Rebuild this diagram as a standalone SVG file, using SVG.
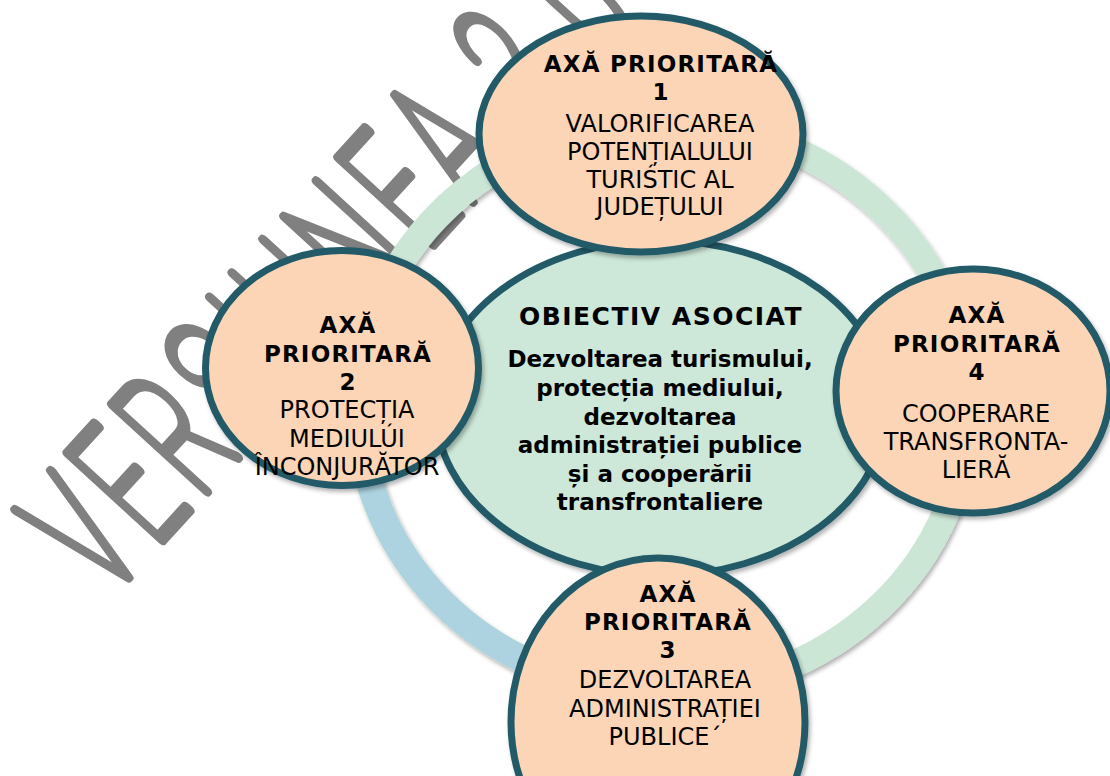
<svg xmlns="http://www.w3.org/2000/svg" width="1110" height="776" viewBox="0 0 1110 776">
  <defs>
    <filter id="sh" x="-10%" y="-10%" width="125%" height="125%">
      <feDropShadow dx="2" dy="3" stdDeviation="2" flood-color="#000" flood-opacity="0.3"/>
    </filter>
    <style>
      .wm { font-family: Roboto, "Open Sans", sans-serif; font-weight: 100; font-size: 180px; letter-spacing: 18px; fill: #808080; stroke: #808080; stroke-width: 9; vector-effect: non-scaling-stroke; stroke-linejoin: round; stroke-linecap: round; }
      .node { fill: #fbd5b5; stroke: #215a68; stroke-width: 7; }
      .center { fill: #cde7d8; stroke: #215a68; stroke-width: 7; }
      .b { font-family: "DejaVu Sans", "Liberation Sans", sans-serif; font-weight: bold; font-size: 23px; fill: #000; text-anchor: middle; letter-spacing: 1.2px; }
      .r { font-family: "DejaVu Sans", "Liberation Sans", sans-serif; font-size: 24px; fill: #000; text-anchor: middle; }
      .cb { font-family: "DejaVu Sans", "Liberation Sans", sans-serif; font-weight: bold; font-size: 23px; fill: #000; text-anchor: middle; }
      .ct { font-family: "DejaVu Sans", "Liberation Sans", sans-serif; font-weight: bold; font-size: 25px; fill: #000; text-anchor: middle; letter-spacing: 1.5px; }
    </style>
  </defs>

  <g id="watermark" transform="translate(108 599) rotate(-47.5) scale(0.55 1)">
    <text class="wm" x="0" y="0">VERSIUNEA 2.0</text>
  </g>

  <g id="connectors" filter="url(#sh)">
    <ellipse cx="663" cy="407" rx="304.5" ry="284.5" fill="none" stroke="#cce6d6" stroke-width="27"/>
    <path d="M 610.2 687.2 A 304.5 284.5 0 0 1 360.2 382.2" fill="none" stroke="#aed3e0" stroke-width="27"/>
  </g>

  <g id="center-node">
    <ellipse class="center" cx="661" cy="408" rx="225.5" ry="167.5" filter="url(#sh)"/>
    <text class="ct" x="661" y="325">OBIECTIV ASOCIAT</text>
    <text class="cb" x="660" y="367">Dezvoltarea turismului,</text>
    <text class="cb" x="660" y="396">protecția mediului,</text>
    <text class="cb" x="660" y="425">dezvoltarea</text>
    <text class="cb" x="660" y="453">administrației publice</text>
    <text class="cb" x="660" y="482">și a cooperării</text>
    <text class="cb" x="660" y="510">transfrontaliere</text>
  </g>

  <g id="node1">
    <ellipse class="node" cx="641" cy="134" rx="162" ry="118" filter="url(#sh)"/>
    <text class="b" x="661" y="72">AXĂ PRIORITARĂ</text>
    <text class="b" x="661" y="100">1</text>
    <text class="r" x="660" y="132">VALORIFICAREA</text>
    <text class="r" x="660" y="160">POTENȚIALULUI</text>
    <text class="r" x="660" y="188">TURIŚTIC AL</text>
    <text class="r" x="660" y="215">JUDEȚULUI</text>
  </g>

  <g id="node2">
    <ellipse class="node" cx="342" cy="368" rx="136.5" ry="117.5" filter="url(#sh)"/>
    <text class="b" x="348" y="333">AXĂ</text>
    <text class="b" x="348" y="362">PRIORITARĂ</text>
    <text class="b" x="348" y="390">2</text>
    <text class="r" x="347" y="418">PROTECȚIA</text>
    <text class="r" x="347" y="447">MEDIULÚI</text>
    <text class="r" x="347" y="475">ÎNCONJURĂTOR</text>
  </g>

  <g id="node4">
    <ellipse class="node" cx="973" cy="391" rx="137" ry="122" filter="url(#sh)"/>
    <text class="b" x="977" y="323">AXĂ</text>
    <text class="b" x="977" y="352">PRIORITARĂ</text>
    <text class="b" x="977" y="380">4</text>
    <text class="r" x="976" y="422">COOPERARE</text>
    <text class="r" x="976" y="450">TRANSFRONTA-</text>
    <text class="r" x="976" y="478">LIERĂ</text>
  </g>

  <g id="node3">
    <ellipse class="node" cx="658" cy="722" rx="147" ry="164" filter="url(#sh)"/>
    <text class="b" x="668" y="602">AXĂ</text>
    <text class="b" x="668" y="630">PRIORITARĂ</text>
    <text class="b" x="668" y="658">3</text>
    <text class="r" x="665" y="688">DEZVOLTAREA</text>
    <text class="r" x="665" y="717">ADMINISTRAȚIEI</text>
    <text class="r" x="665" y="745">PUBLICE´</text>
  </g>
</svg>
